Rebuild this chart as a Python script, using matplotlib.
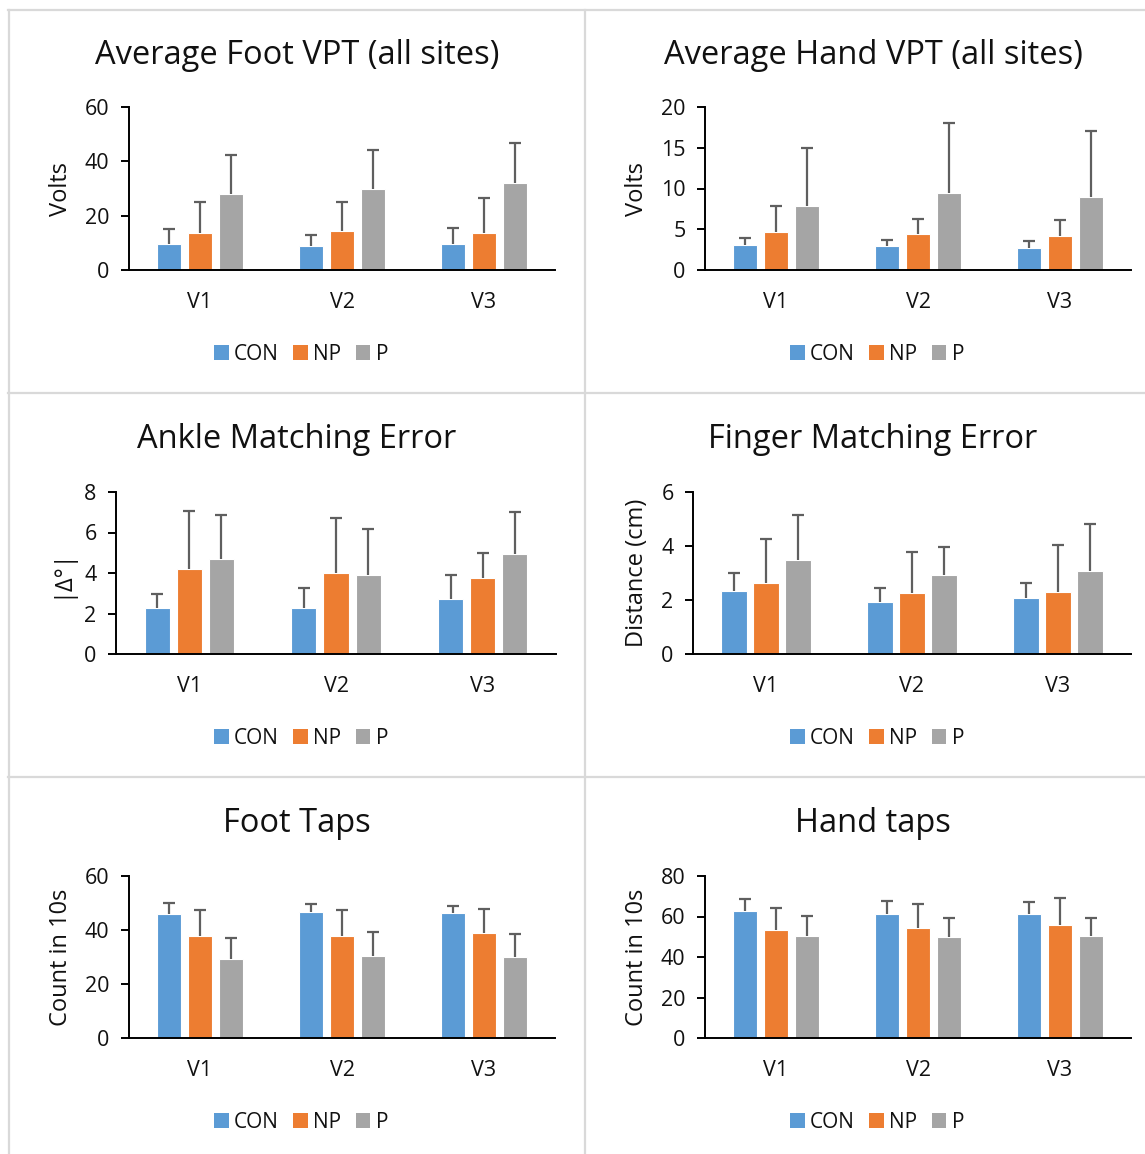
import matplotlib
matplotlib.use('Agg')
import matplotlib.pyplot as plt
from matplotlib.patches import Patch
from matplotlib.lines import Line2D
import numpy as np

# ---------------- data ----------------
visits = ['V1', 'V2', 'V3']
groups = ['CON', 'NP', 'P']

foot_vpt_mean = {'CON': [9.5, 9.0, 9.7], 'NP': [13.8, 14.3, 13.8], 'P': [28.0, 29.8, 32.1]}
foot_vpt_sd = {'CON': [5.5, 3.8, 5.7], 'NP': [11.2, 10.7, 12.6], 'P': [14.4, 14.4, 14.6]}

hand_vpt_mean = {'CON': [3.03, 2.95, 2.66], 'NP': [4.70, 4.43, 4.18], 'P': [7.80, 9.50, 8.93]}
hand_vpt_sd = {'CON': [0.87, 0.75, 0.91], 'NP': [3.17, 1.80, 1.92], 'P': [7.16, 8.57, 8.07]}

ankle_mean = {'CON': [2.29, 2.26, 2.70], 'NP': [4.20, 4.01, 3.76], 'P': [4.68, 3.90, 4.93]}
ankle_sd = {'CON': [0.67, 1.01, 1.20], 'NP': [2.87, 2.72, 1.24], 'P': [2.16, 2.25, 2.09]}

finger_mean = {'CON': [2.34, 1.91, 2.09], 'NP': [2.64, 2.25, 2.31], 'P': [3.47, 2.93, 3.09]}
finger_sd = {'CON': [0.66, 0.55, 0.54], 'NP': [1.63, 1.53, 1.71], 'P': [1.67, 1.02, 1.74]}

foot_taps_mean = {'CON': [45.9, 46.8, 46.2], 'NP': [37.8, 37.7, 38.8], 'P': [29.3, 30.2, 30.0]}
foot_taps_sd = {'CON': [4.2, 2.8, 2.8], 'NP': [9.5, 9.6, 9.1], 'P': [7.6, 9.1, 8.4]}

hand_taps_mean = {'CON': [62.7, 61.4, 61.1], 'NP': [53.2, 54.2, 55.8], 'P': [50.4, 50.0, 50.5]}
hand_taps_sd = {'CON': [5.9, 6.3, 5.9], 'NP': [10.8, 12.0, 13.3], 'P': [9.7, 9.3, 8.8]}

titles = ['Average Foot VPT (all sites)', 'Average Hand VPT (all sites)',
          'Ankle Matching Error', 'Finger Matching Error',
          'Foot Taps', 'Hand taps']
ylabels = ['Volts', 'Volts', '|\u0394\u00b0|', 'Distance (cm)', 'Count in 10s', 'Count in 10s']
yticks_list = [[0, 20, 40, 60], [0, 5, 10, 15, 20], [0, 2, 4, 6, 8],
               [0, 2, 4, 6], [0, 20, 40, 60], [0, 20, 40, 60, 80]]

# ---------------- style ----------------
colors = {'CON': '#5B9BD5', 'NP': '#ED7D31', 'P': '#A5A5A5'}
W, H = 1145, 1154
plt.rcParams['font.family'] = ['Open Sans', 'DejaVu Sans']
fig = plt.figure(figsize=(W / 100, H / 100), dpi=100)

# axes boxes in pixels: left, right, top, bottom
boxes = [(129, 555, 107, 270), (705, 1131, 107, 270),
         (116, 556, 492, 654), (693, 1131, 492, 654),
         (129, 555, 876, 1038), (705, 1131, 876, 1038)]
panel_cx = [297, 873]
title_y = [55, 440, 824]
legend_y = [354, 738, 1122]
legend_cx = [301, 877]
ylabel_x = [61, 637]

means = [foot_vpt_mean, hand_vpt_mean, ankle_mean, finger_mean, foot_taps_mean, hand_taps_mean]
sds = [foot_vpt_sd, hand_vpt_sd, ankle_sd, finger_sd, foot_taps_sd, hand_taps_sd]

bar_w = 0.172
step = 0.219

for k in range(6):
    l, r, t, b = boxes[k]
    ax = fig.add_axes([l / W, 1 - b / H, (r - l) / W, (b - t) / H])
    x = np.arange(len(visits))
    for i, g in enumerate(groups):
        m = np.array(means[k][g])
        s = np.array(sds[k][g])
        cont = ax.bar(x + (i - 1) * step, m, width=bar_w, color=colors[g], edgecolor='white',
                      linewidth=0.8, yerr=[np.zeros_like(s), s],
                      error_kw=dict(ecolor='#5f5f5f', elinewidth=1.6, capsize=4.5, capthick=1.6),
                      zorder=2)
        caplines = cont.errorbar.lines[1]
        if len(caplines) >= 2:
            caplines[0].set_visible(False)
    yt = yticks_list[k]
    ax.set_xlim(-0.5, len(visits) - 0.5)
    ax.set_ylim(yt[0], yt[-1])
    ax.set_yticks(yt)
    ax.set_xticks(x)
    ax.set_xticklabels(visits)
    for sp in ['top', 'right']:
        ax.spines[sp].set_visible(False)
    for sp in ['left', 'bottom']:
        ax.spines[sp].set_linewidth(1.4)
        ax.spines[sp].set_color('black')
    ax.spines['left'].set_zorder(3)
    ax.tick_params(axis='y', length=6, width=1.4, direction='out', pad=8, labelsize=15.5,
                   labelcolor='#111111')
    ax.tick_params(axis='x', length=0, pad=16, labelsize=15.5, labelcolor='#111111')
    col = k % 2
    row = k // 2
    fig.text(ylabel_x[col] / W, 1 - ((t + b) / 2) / H, ylabels[k], rotation=90,
             ha='center', va='center', fontsize=17, color='#111111')
    fig.text(panel_cx[col] / W, 1 - title_y[row] / H, titles[k], ha='center', va='center',
             fontsize=23.5, color='#111111')
    handles = [Patch(facecolor=colors[g], edgecolor='none') for g in groups]
    fig.legend(handles, groups, loc='center', bbox_to_anchor=(legend_cx[col] / W, 1 - legend_y[row] / H),
               ncol=3, frameon=False, fontsize=15, handlelength=0.7, handleheight=0.7,
               handletextpad=0.25, columnspacing=0.7, borderaxespad=0, labelcolor='#111111')

# panel separators
grid_c = '#D9D9D9'
for yy in [9.5, 392.5, 777]:
    fig.add_artist(Line2D([8 / W, 1], [1 - yy / H, 1 - yy / H], color=grid_c, lw=1.6,
                          transform=fig.transFigure))
for xx in [8.5, 585]:
    fig.add_artist(Line2D([xx / W, xx / W], [0, 1 - 9.5 / H], color=grid_c, lw=1.6,
                          transform=fig.transFigure))

fig.savefig('out.png', dpi=100, facecolor='white')
